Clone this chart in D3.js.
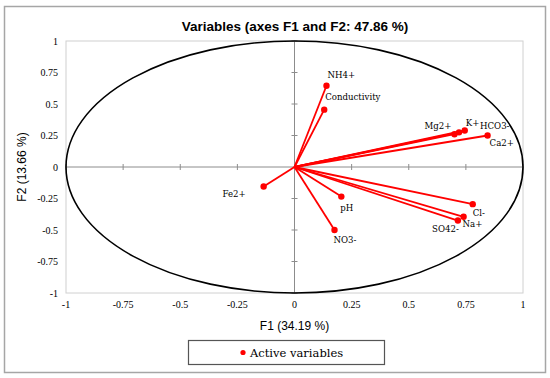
<!DOCTYPE html>
<html>
<head>
<meta charset="utf-8">
<script src="https://cdn.jsdelivr.net/npm/d3@7"></script>
<style>
  body { margin: 0; background: #fff; }
  svg text { fill: #000; }
</style>
</head>
<body>
<div id="chart"></div>
<script>
// variables of the correlation circle
var names = ['NH4+', 'Conductivity', 'Mg2+', 'HCO3-', 'K+', 'Ca2+', 'Fe2+', 'pH', 'NO3-', 'Cl-', 'Na+', 'SO42-'];
var f1 = [0.14, 0.13, 0.70, 0.72, 0.745, 0.845, -0.135, 0.205, 0.175, 0.78, 0.74, 0.715];
var f2 = [0.645, 0.455, 0.26, 0.275, 0.29, 0.25, -0.155, -0.235, -0.50, -0.295, -0.395, -0.425];
var ticks = [-1, -0.75, -0.5, -0.25, 0, 0.25, 0.5, 0.75, 1];

var data = names.map(function(n, i) { return {nama: n, x: f1[i], y: f2[i]}; });

var W = 550, H = 378;
var pLeft = 66, pRight = 523, pTop = 41, pBottom = 293;

var svg = d3.select('#chart').append('svg')
    .attr('width', W)
    .attr('height', H);

// outer frame
svg.append('rect')
    .attr('x', 4.5).attr('y', 6.5)
    .attr('width', 541).attr('height', 366)
    .attr('fill', 'none')
    .attr('stroke', '#a6a6a6')
    .attr('stroke-width', 1.5);

svg.append('text')
    .attr('x', 295).attr('y', 31)
    .attr('text-anchor', 'middle')
    .style('font-family', '"Liberation Sans", Arial, sans-serif')
    .style('font-weight', 'bold')
    .style('font-size', '13.5px')
    .text('Variables (axes F1 and F2: 47.86 %)');

var xScale = d3.scaleLinear().domain([-1, 1]).range([pLeft, pRight]);
var yScale = d3.scaleLinear().domain([-1, 1]).range([pBottom, pTop]);

// plot box
svg.append('rect')
    .attr('x', pLeft).attr('y', pTop)
    .attr('width', pRight - pLeft).attr('height', pBottom - pTop)
    .attr('fill', 'none')
    .attr('stroke', '#d0d0d0');

// tick labels
svg.append('g').selectAll('text')
    .data(ticks).enter().append('text')
    .attr('x', function(d) { return xScale(d); })
    .attr('y', pBottom + 15)
    .attr('text-anchor', 'middle')
    .style('font-family', '"Liberation Serif", "Times New Roman", serif')
    .style('font-size', '10px')
    .text(function(d) { return d; });

svg.append('g').selectAll('text')
    .data(ticks).enter().append('text')
    .attr('x', pLeft - 8)
    .attr('y', function(d) { return yScale(d) + 3.5; })
    .attr('text-anchor', 'end')
    .style('font-family', '"Liberation Serif", "Times New Roman", serif')
    .style('font-size', '10px')
    .text(function(d) { return d; });

// center axes with small ticks
var ax = svg.append('g').attr('stroke', '#8c8c8c').attr('stroke-width', 1);
ax.append('line')
    .attr('x1', pLeft).attr('x2', pRight)
    .attr('y1', yScale(0)).attr('y2', yScale(0));
ax.append('line')
    .attr('x1', xScale(0)).attr('x2', xScale(0))
    .attr('y1', pTop).attr('y2', pBottom);
ax.selectAll('.ty')
    .data(ticks.filter(function(d) { return d !== 0; })).enter().append('line')
    .attr('x1', xScale(0) - 3).attr('x2', xScale(0) + 3)
    .attr('y1', function(d) { return yScale(d); })
    .attr('y2', function(d) { return yScale(d); });
ax.selectAll('.tx')
    .data(ticks.filter(function(d) { return d !== 0; })).enter().append('line')
    .attr('y1', yScale(0) - 3).attr('y2', yScale(0) + 3)
    .attr('x1', function(d) { return xScale(d); })
    .attr('x2', function(d) { return xScale(d); });

// correlation circle
svg.append('ellipse')
    .attr('cx', xScale(0)).attr('cy', yScale(0))
    .attr('rx', xScale(1) - xScale(0))
    .attr('ry', yScale(0) - yScale(1))
    .attr('fill', 'none')
    .attr('stroke', '#000')
    .attr('stroke-width', 1.6);

// vectors
svg.append('g').selectAll('line')
    .data(data).enter().append('line')
    .attr('x1', xScale(0)).attr('y1', yScale(0))
    .attr('x2', function(d) { return xScale(d.x); })
    .attr('y2', function(d) { return yScale(d.y); })
    .attr('stroke', '#ff0000')
    .attr('stroke-width', 1.8);

svg.append('g').selectAll('circle')
    .data(data).enter().append('circle')
    .attr('cx', function(d) { return xScale(d.x); })
    .attr('cy', function(d) { return yScale(d.y); })
    .attr('r', 3.2)
    .attr('fill', '#ff0000');

// label placement (dx, dy, anchor)
var place = {
  'NH4+': [1, -8, 'start'],
  'Conductivity': [1, -10, 'start'],
  'Mg2+': [-3, -5, 'end'],
  'HCO3-': [21, -3, 'start'],
  'K+': [1, -4, 'start'],
  'Ca2+': [2, 10, 'start'],
  'Fe2+': [-18, 10, 'end'],
  'pH': [-1, 14, 'start'],
  'NO3-': [-1, 13, 'start'],
  'Cl-': [0, 12, 'start'],
  'Na+': [-1, 10, 'start'],
  'SO42-': [1, 11, 'end']
};

svg.append('g').selectAll('text')
    .data(data).enter().append('text')
    .attr('x', function(d) { return xScale(d.x) + place[d.nama][0]; })
    .attr('y', function(d) { return yScale(d.y) + place[d.nama][1]; })
    .attr('text-anchor', function(d) { return place[d.nama][2]; })
    .style('font-family', '"DejaVu Serif", serif')
    .style('font-size', '8.6px')
    .text(function(d) { return d.nama; });

// axis titles
svg.append('text')
    .attr('x', xScale(0)).attr('y', 330)
    .attr('text-anchor', 'middle')
    .style('font-family', '"Liberation Sans", Arial, sans-serif')
    .style('font-size', '12px')
    .text('F1 (34.19 %)');

svg.append('text')
    .attr('transform', 'translate(26,' + yScale(0) + ') rotate(-90)')
    .attr('text-anchor', 'middle')
    .style('font-family', '"Liberation Sans", Arial, sans-serif')
    .style('font-size', '12px')
    .text('F2 (13.66 %)');

// legend
var lg = svg.append('g');
lg.append('rect')
    .attr('x', 188.5).attr('y', 340.5)
    .attr('width', 196).attr('height', 24)
    .attr('fill', 'none')
    .attr('stroke', '#555')
    .attr('stroke-width', 1.2);
lg.append('circle')
    .attr('cx', 243).attr('cy', 352.5)
    .attr('r', 2.6)
    .attr('fill', '#ff0000');
lg.append('text')
    .attr('x', 250).attr('y', 357)
    .style('font-family', '"DejaVu Serif", serif')
    .style('font-size', '11.5px')
    .text('Active variables');
</script>
</body>
</html>
